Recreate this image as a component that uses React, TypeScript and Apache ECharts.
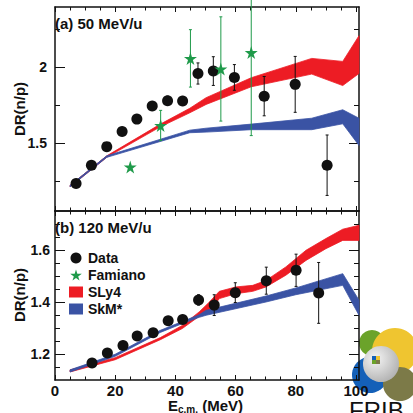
import React, { useEffect, useRef } from 'react';
import * as echarts from 'echarts';

const FONT = 'Liberation Sans';
const RED = '#ED1C24';
const BLUE = '#3A53A4';
const GREEN = '#1F9A4A';
const BLACK = '#111111';
const STAR = 'path://M50,0 L61,35 L98,35 L68,57 L79,91 L50,70 L21,91 L32,57 L2,35 L39,35 Z';

// axis ticks
const xTickLabels = [0, 20, 40, 60, 80, 100];
const xMinorTicks = [5, 10, 15, 25, 30, 35, 45, 50, 55, 65, 70, 75, 85, 90, 95];
const yTickLabelsA = [1.5, 2];
const yMinorTicksA = [1.25, 1.75, 2.25];
const yTickLabelsB = [1.2, 1.4, 1.6];
const yMinorTicksB = [1.15, 1.25, 1.3, 1.35, 1.45, 1.5, 1.55, 1.65, 1.7];

// (a) 50 MeV/u
const dataE_A = [7.0, 12.1, 17.2, 22.3, 27.2, 32.3, 37.4, 42.4, 47.5, 52.6, 59.6, 69.5, 79.8, 90.4];
const dataDR_A = [1.232, 1.353, 1.476, 1.576, 1.658, 1.745, 1.78, 1.778, 1.96, 1.976, 1.934, 1.81, 1.888, 1.353];
const dataErr_A = [0.01, 0.01, 0.01, 0.01, 0.01, 0.015, 0.03, 0.03, 0.07, 0.095, 0.085, 0.13, 0.185, 0.2];
const famE_A = [25.0, 35.1, 45.0, 55.1, 65.2];
const famDR_A = [1.342, 1.616, 2.06, 1.99, 2.099];
const famErr_A = [0.0, 0.1, 0.19, 0.345, 0.55];
const slyE_A = [5, 17.2, 35, 44.8, 50.2, 65.2, 85.3, 95.6, 101];
const slyLo_A = [1.21, 1.405, 1.607, 1.7, 1.755, 1.872, 1.956, 1.88, 1.96];
const slyHi_A = [1.22, 1.415, 1.625, 1.73, 1.8, 1.932, 2.06, 2.04, 2.21];
const skmE_A = [5, 17.2, 44.8, 50.2, 65.2, 85.3, 95.6, 101];
const skmLo_A = [1.21, 1.405, 1.568, 1.572, 1.588, 1.588, 1.627, 1.484];
const skmHi_A = [1.22, 1.415, 1.585, 1.598, 1.625, 1.664, 1.72, 1.664];

// (b) 120 MeV/u
const dataE_B = [12.3, 17.4, 22.6, 27.3, 32.6, 37.6, 42.4, 47.7, 52.9, 59.9, 70.2, 80.1, 87.6];
const dataDR_B = [1.165, 1.204, 1.233, 1.269, 1.282, 1.328, 1.333, 1.408, 1.388, 1.436, 1.482, 1.522, 1.435];
const dataErr_B = [0.005, 0.005, 0.005, 0.005, 0.005, 0.01, 0.01, 0.02, 0.04, 0.038, 0.052, 0.062, 0.117];
const slyE_B = [5, 20, 35, 42.3, 47.9, 51.3, 54.6, 60.1, 65.7, 70.1, 76.7, 83.4, 90.0, 95.6, 101];
const slyLo_B = [1.131, 1.178, 1.255, 1.298, 1.345, 1.364, 1.413, 1.432, 1.441, 1.458, 1.503, 1.56, 1.605, 1.637, 1.637];
const slyHi_B = [1.139, 1.186, 1.263, 1.31, 1.362, 1.4, 1.441, 1.458, 1.464, 1.483, 1.535, 1.599, 1.644, 1.68, 1.695];
const skmE_B = [5, 20, 35, 42.3, 47.9, 50.2, 70.1, 80.0, 95.6, 101];
const skmLo_B = [1.131, 1.191, 1.283, 1.317, 1.341, 1.349, 1.4, 1.428, 1.464, 1.349];
const skmHi_B = [1.139, 1.199, 1.291, 1.325, 1.351, 1.368, 1.423, 1.454, 1.509, 1.407];

function axisPair(gridIndex: number, position: string, min: number, max: number, major: number[], minor: number[], majorLen: number, minorLen: number, label?: any) {
  const base: any = { type: 'value', gridIndex, position, min, max, splitLine: { show: false } };
  return [
    {
      ...base,
      axisLine: { show: true, onZero: false, lineStyle: { color: BLACK, width: 1.5 } },
      axisTick: { show: true, inside: true, length: majorLen, customValues: major, lineStyle: { color: BLACK, width: 1 } },
      axisLabel: label ?? { show: false },
    },
    {
      ...base,
      axisLine: { show: false, onZero: false },
      axisTick: { show: true, inside: true, length: minorLen, customValues: minor, lineStyle: { color: BLACK, width: 1 } },
      axisLabel: { show: false },
    },
  ];
}

function band(name: string, ax: number, E: number[], lo: number[], hi: number[], color: string) {
  return {
    type: 'custom', name, xAxisIndex: ax, yAxisIndex: ax, z: 2,
    data: E.map((e, i) => [e, lo[i], hi[i]]),
    encode: { x: 0, y: [1, 2] },
    renderItem: (params: any, api: any) => {
      if (params.dataIndex !== 0) return null;
      const top = E.map((e, i) => api.coord([e, hi[i]]));
      const bot = E.map((e, i) => api.coord([e, lo[i]])).reverse();
      return { type: 'polygon', shape: { points: top.concat(bot) }, style: { fill: color, stroke: color, lineWidth: 0.8 } };
    },
  };
}

function errBars(name: string, ax: number, E: number[], V: number[], err: number[], color: string) {
  return {
    type: 'custom', name, xAxisIndex: ax, yAxisIndex: ax, z: 4, clip: false,
    data: E.map((e, i) => [e, V[i] - err[i], V[i] + err[i]]),
    encode: { x: 0, y: [1, 2] },
    renderItem: (params: any, api: any) => {
      const x = api.value(0);
      const p1 = api.coord([x, api.value(1)]);
      const p2 = api.coord([x, api.value(2)]);
      const st = { stroke: color, lineWidth: 1 };
      return {
        type: 'group', children: [
          { type: 'line', shape: { x1: p1[0], y1: p1[1], x2: p2[0], y2: p2[1] }, style: st },
          { type: 'line', shape: { x1: p1[0] - 1.5, y1: p1[1], x2: p1[0] + 1.5, y2: p1[1] }, style: st },
          { type: 'line', shape: { x1: p2[0] - 1.5, y1: p2[1], x2: p2[0] + 1.5, y2: p2[1] }, style: st },
        ],
      };
    },
  };
}

export default function App() {
  const ref = useRef<HTMLDivElement>(null);
  useEffect(() => {
    const chart = echarts.init(ref.current!, null, { renderer: 'svg' });
    const xLabel = { show: true, customValues: xTickLabels, fontSize: 15, fontWeight: 'bold', color: '#111', margin: 4, fontFamily: FONT, lineHeight: 13 };
    const yLabelA = { show: true, customValues: yTickLabelsA, fontSize: 14, fontWeight: 'bold', color: '#111', margin: 8, fontFamily: FONT, formatter: (v: number) => String(v) };
    const yLabelB = { show: true, customValues: yTickLabelsB, fontSize: 14, fontWeight: 'bold', color: '#111', margin: 5, fontFamily: FONT, formatter: (v: number) => v.toFixed(1) };
    const xAxes = [
      ...axisPair(0, 'bottom', 0, 101, xTickLabels, xMinorTicks, 5, 3.5),
      ...axisPair(0, 'top', 0, 101, xTickLabels, xMinorTicks, 5, 3.5),
      ...axisPair(1, 'bottom', 0, 101, xTickLabels, xMinorTicks, 5, 3.5, xLabel),
      ...axisPair(1, 'top', 0, 101, xTickLabels, xMinorTicks, 5, 3.5),
    ];
    const yAxes = [
      ...axisPair(0, 'left', 1.05, 2.4, yTickLabelsA, yMinorTicksA, 10, 5, yLabelA),
      ...axisPair(0, 'right', 1.05, 2.4, yTickLabelsA, yMinorTicksA, 10, 5),
      ...axisPair(1, 'left', 1.1, 1.75, yTickLabelsB, yMinorTicksB, 10, 5, yLabelB),
      ...axisPair(1, 'right', 1.1, 1.75, yTickLabelsB, yMinorTicksB, 10, 5),
    ];
    const dot = { color: BLACK, opacity: 1 };
    const option: any = {
      animation: false,
      backgroundColor: '#fff',
      textStyle: { fontFamily: FONT },
      grid: [
        { left: 55, top: 7, width: 304, height: 204 },
        { left: 55, top: 211, width: 304, height: 169 },
      ],
      xAxis: xAxes,
      yAxis: yAxes,
      legend: {
        orient: 'vertical', left: 69, top: 251, padding: 0,
        itemWidth: 14, itemHeight: 11, itemGap: 3, selectedMode: false,
        textStyle: { fontSize: 14, lineHeight: 14, fontWeight: 'bold', color: '#111', fontFamily: FONT },
        data: [
          { name: 'Data', icon: 'circle', itemStyle: { color: BLACK, opacity: 1 } },
          { name: 'Famiano', icon: STAR, itemStyle: { color: GREEN, opacity: 1 } },
          { name: 'SLy4', icon: 'rect', itemStyle: { color: RED } },
          { name: 'SkM*', icon: 'rect', itemStyle: { color: BLUE } },
        ],
      },
      series: [
        band('SLy4', 0, slyE_A, slyLo_A, slyHi_A, RED),
        band('SkM*', 0, skmE_A, skmLo_A, skmHi_A, BLUE),
        errBars('Data errors', 0, dataE_A, dataDR_A, dataErr_A, BLACK),
        errBars('Famiano errors', 0, famE_A, famDR_A, famErr_A, GREEN),
        { type: 'scatter', name: 'Data', xAxisIndex: 0, yAxisIndex: 0, z: 5, symbol: 'circle', symbolSize: 11, itemStyle: dot, data: dataE_A.map((e, i) => [e, dataDR_A[i]]) },
        { type: 'scatter', name: 'Famiano', xAxisIndex: 0, yAxisIndex: 0, z: 5, symbol: STAR, symbolSize: 13, itemStyle: { color: GREEN, opacity: 1 }, data: famE_A.map((e, i) => [e, famDR_A[i]]) },
        band('SLy4', 4, slyE_B, slyLo_B, slyHi_B, RED),
        band('SkM*', 4, skmE_B, skmLo_B, skmHi_B, BLUE),
        errBars('Data errors', 4, dataE_B, dataDR_B, dataErr_B, BLACK),
        { type: 'scatter', name: 'Data', xAxisIndex: 4, yAxisIndex: 4, z: 5, symbol: 'circle', symbolSize: 11, itemStyle: dot, data: dataE_B.map((e, i) => [e, dataDR_B[i]]) },
      ],
      graphic: [
        // FRIB logo (behind everything)
        { type: 'group', z: -10, children: [
          { type: 'circle', shape: { cx: 372, cy: 343, r: 13 }, style: { fill: '#6BA32A' } },
          { type: 'circle', shape: { cx: 395, cy: 351, r: 23 }, style: { fill: '#EFC530' } },
          { type: 'circle', shape: { cx: 370, cy: 375, r: 18 }, style: { fill: '#1460B8' } },
          { type: 'circle', shape: { cx: 400, cy: 384, r: 17 }, style: { fill: '#7C7A48' } },
          { type: 'circle', shape: { cx: 381, cy: 364, r: 18 }, style: { fill: new echarts.graphic.RadialGradient(0.35, 0.35, 0.8, [{ offset: 0, color: '#f4f4f4' }, { offset: 1, color: '#a9a9a9' }]) } },
          { type: 'rect', shape: { x: 372, y: 356, width: 4, height: 4 }, style: { fill: '#1460B8' } },
          { type: 'rect', shape: { x: 376, y: 356, width: 4, height: 4 }, style: { fill: '#EFC530' } },
          { type: 'rect', shape: { x: 372, y: 360, width: 4, height: 4 }, style: { fill: '#6BA32A' } },
          { type: 'rect', shape: { x: 376, y: 360, width: 4, height: 4 }, style: { fill: '#7C7A48' } },
          { type: 'text', x: 349, y: 398, style: { text: 'FRIB', font: '24px Liberation Sans', fill: '#111', align: 'left', verticalAlign: 'top' } },
        ] },
        { type: 'text', x: 55, y: 23, z: 10, style: { text: '(a) 50 MeV/u', font: 'bold 15px Liberation Sans', fill: '#111', align: 'left', verticalAlign: 'middle' } },
        { type: 'text', x: 55, y: 227, z: 10, style: { text: '(b) 120 MeV/u', font: 'bold 15px Liberation Sans', fill: '#111', align: 'left', verticalAlign: 'middle' } },
        { type: 'text', x: 19, y: 109, rotation: Math.PI / 2, z: 10, style: { text: 'DR(n/p)', font: 'bold 15px Liberation Sans', fill: '#111', align: 'center', verticalAlign: 'middle' } },
        { type: 'text', x: 19, y: 295, rotation: Math.PI / 2, z: 10, style: { text: 'DR(n/p)', font: 'bold 15px Liberation Sans', fill: '#111', align: 'center', verticalAlign: 'middle' } },
        { type: 'text', x: 168, y: 398, z: 10, style: {
          text: '{e|E}{s|c.m.}{e| (MeV)}', align: 'left', verticalAlign: 'top',
          rich: {
            e: { fontFamily: FONT, fontSize: 15, fontWeight: 'bold', fill: '#111', lineHeight: 16, verticalAlign: 'top' },
            s: { fontFamily: FONT, fontSize: 10, fontWeight: 'bold', fill: '#111', lineHeight: 10, verticalAlign: 'bottom' },
          },
        } },
      ],
    };
    chart.setOption(option);
    return () => chart.dispose();
  }, []);
  return <div ref={ref} style={{ position: 'fixed', left: 0, top: 0, width: 413, height: 413 }} />;
}
